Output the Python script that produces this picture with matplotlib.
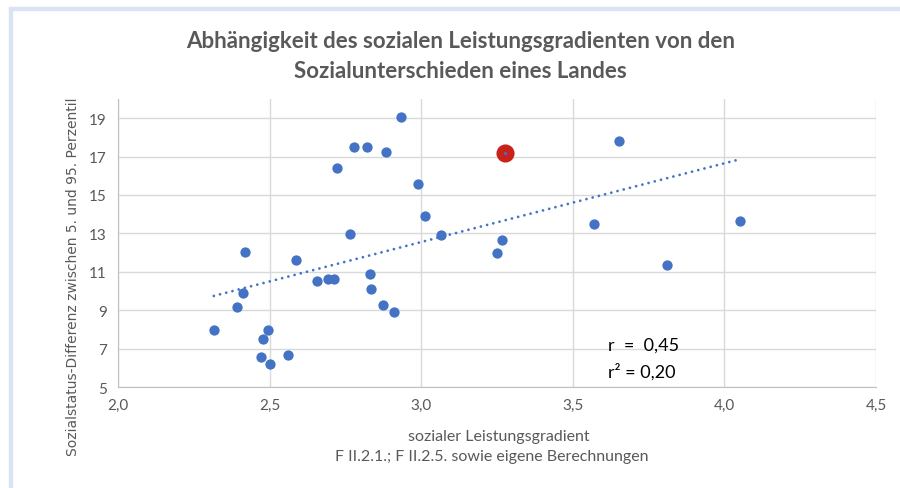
import numpy as np
import matplotlib
matplotlib.use("Agg")
import matplotlib.pyplot as plt
from matplotlib.ticker import FuncFormatter
from matplotlib.patches import Rectangle

# Daten
gradient = [2.933, 2.780, 2.820, 2.884, 2.722, 2.990, 3.014, 3.064, 2.765, 2.419,
            2.586, 2.831, 2.655, 2.694, 2.713, 2.834, 2.413, 2.391, 2.874, 2.909,
            2.316, 2.496, 2.477, 2.470, 2.500, 2.561, 3.653, 3.268, 3.251, 3.571,
            3.812, 4.053]
differenz = [19.05, 17.52, 17.52, 17.24, 16.43, 15.57, 13.92, 12.90, 12.97, 12.04,
             11.59, 10.91, 10.51, 10.62, 10.62, 10.11, 9.89, 9.19, 9.26, 8.91,
             7.96, 7.96, 7.49, 6.58, 6.18, 6.65, 17.80, 12.67, 11.99, 13.47,
             11.37, 13.64]
highlight_x = [3.275]
highlight_y = [17.17]

x_ticks = [2.0, 2.5, 3.0, 3.5, 4.0, 4.5]
y_ticks = [5, 7, 9, 11, 13, 15, 17, 19]

stat_lines = ["r  =  0,45", "r² = 0,20"]

GRAY = "#595959"
BLUE = "#4472C4"
FONT = ["Lato", "DejaVu Sans"]

fig = plt.figure(figsize=(9, 4.89), dpi=100)

# hellblauer Rahmen oben/links
fig.patches.append(Rectangle((9 / 900, 0), 3 / 900, 1 - 8 / 489, transform=fig.transFigure,
                             color="#dae3f3", zorder=0))
fig.patches.append(Rectangle((9 / 900, 1 - 11 / 489), 1, 3 / 489, transform=fig.transFigure,
                             color="#dae3f3", zorder=0))

ax = fig.add_axes([118 / 900, 1 - 388 / 489, 758 / 900, 288 / 489])

all_x = np.array(gradient + highlight_x)
all_y = np.array(differenz + highlight_y)
k, d = np.polyfit(all_x, all_y, 1)
tx = np.array([all_x.min(), all_x.max()])
ax.plot(tx, k * tx + d, linestyle=(0, (0.01, 2.3)), dash_capstyle="round",
        color=BLUE, linewidth=2.0, zorder=3)

ax.scatter(gradient, differenz, s=55, color=BLUE, zorder=4, linewidths=0)
ax.scatter(highlight_x, highlight_y, s=170, color="#C8221A", zorder=5, linewidths=0)
ax.scatter(highlight_x, highlight_y, s=5, color=BLUE, zorder=6, linewidths=0)

ax.set_xlim(2.0, 4.5)
ax.set_ylim(5, 20)
ax.set_xticks(x_ticks)
ax.set_yticks(y_ticks)
ax.xaxis.set_major_formatter(FuncFormatter(lambda v, p: f"{v:.1f}".replace(".", ",")))
ax.grid(True, color="#d9d9d9", linewidth=1)
ax.set_axisbelow(True)
for side in ["top", "right"]:
    ax.spines[side].set_visible(False)
for side in ["left", "bottom"]:
    ax.spines[side].set_color("#bfbfbf")
ax.tick_params(length=0, colors=GRAY, labelsize=11, pad=8)
for lab in ax.get_xticklabels() + ax.get_yticklabels():
    lab.set_family(FONT)

ax.text(3.615, 7.2, stat_lines[0], fontsize=13, family=FONT, color="black", va="center")
ax.text(3.615, 5.85, stat_lines[1], fontsize=13, family=FONT, color="black", va="center")

fig.text(0.512, 1 - 42 / 489, "Abhängigkeit des sozialen Leistungsgradienten von den",
         ha="center", va="center", fontsize=16, fontweight="bold", color=GRAY, family=FONT)
fig.text(0.512, 1 - 72 / 489, "Sozialunterschieden eines Landes",
         ha="center", va="center", fontsize=16, fontweight="bold", color=GRAY, family=FONT)

fig.text(499 / 900, 1 - 437 / 489, "sozialer Leistungsgradient",
         ha="center", va="center", fontsize=11.5, color=GRAY, family=FONT)
fig.text(492 / 900, 1 - 457 / 489, "F II.2.1.; F II.2.5. sowie eigene Berechnungen",
         ha="center", va="center", fontsize=11.5, color=GRAY, family=FONT)

fig.text(73 / 900, 1 - 277 / 489, "Sozialstatus-Differenz zwischen 5. und 95. Perzentil",
         ha="center", va="center", rotation=90, fontsize=10, color=GRAY, family="DejaVu Sans")

fig.savefig("out.png", dpi=100)
